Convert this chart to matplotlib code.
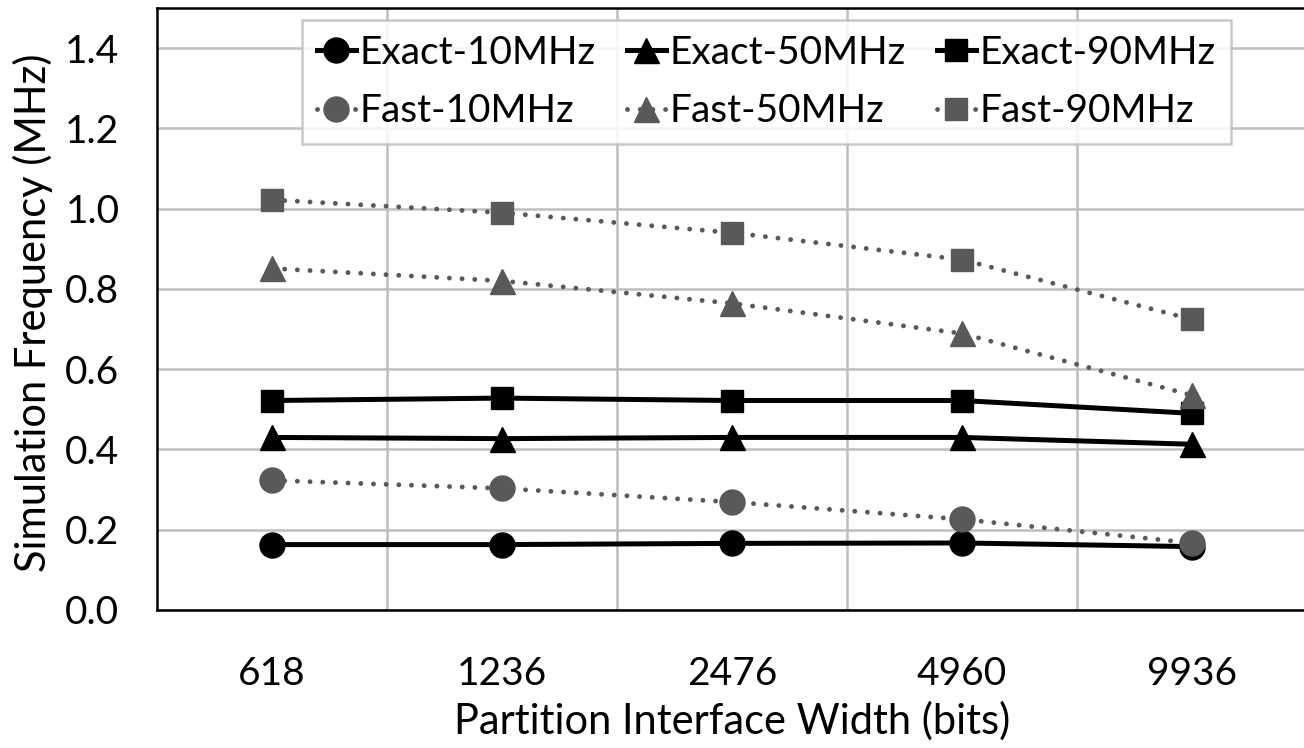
import matplotlib
matplotlib.use("Agg")
import matplotlib.pyplot as plt

categories = ["618", "1236", "2476", "4960", "9936"]
exact_10 = [0.163, 0.163, 0.166, 0.167, 0.158]
exact_50 = [0.430, 0.427, 0.430, 0.430, 0.413]
exact_90 = [0.522, 0.528, 0.522, 0.522, 0.490]
fast_10 = [0.323, 0.303, 0.269, 0.226, 0.167]
fast_50 = [0.851, 0.820, 0.764, 0.689, 0.535]
fast_90 = [1.022, 0.990, 0.940, 0.873, 0.724]
yticks = [0.0, 0.2, 0.4, 0.6, 0.8, 1.0, 1.2, 1.4]

plt.rcParams['font.family'] = ['Lato', 'DejaVu Sans']

fig = plt.figure(figsize=(13.04, 7.48), dpi=100)
ax = fig.add_axes([157/1304, 138/748, (1307-157)/1304, (610-8)/748])

x = list(range(len(categories)))
black = "#000000"
gray = "#595959"

series = [
    ("Exact-10MHz", exact_10, "o", black, "solid"),
    ("Fast-10MHz", fast_10, "o", gray, "dot"),
    ("Exact-50MHz", exact_50, "^", black, "solid"),
    ("Fast-50MHz", fast_50, "^", gray, "dot"),
    ("Exact-90MHz", exact_90, "s", black, "solid"),
    ("Fast-90MHz", fast_90, "s", gray, "dot"),
]
order = [0, 2, 4, 1, 3, 5]
handles = {}
for i in order:
    name, vals, mk, col, ls = series[i]
    ms = 18 if mk != "s" else 16.5
    if ls == "solid":
        ln, = ax.plot(x, vals, color=col, lw=3.6, marker=mk, markersize=ms,
                      markerfacecolor=col, markeredgecolor=col, label=name, zorder=3)
    else:
        ln, = ax.plot(x, vals, color=col, lw=3.5, marker=mk, markersize=ms,
                      markerfacecolor=col, markeredgecolor=col, label=name, zorder=4,
                      dash_capstyle='round', dashes=(0.01, 2.6))
    handles[i] = ln

ax.set_xlim(-0.5, 4.5)
ax.set_ylim(0, 1.5)
ax.set_yticks(yticks)
ax.set_yticklabels([f"{v:.1f}" for v in yticks])
ax.set_xticks(x)
ax.set_xticklabels(categories)
ax.set_xticks([0.5, 1.5, 2.5, 3.5], minor=True)
ax.tick_params(axis='both', which='both', length=0, labelsize=28)
ax.tick_params(axis='x', pad=33)
ax.tick_params(axis='y', pad=27)
ax.grid(True, axis='y', which='major', color="#BFBFBF", lw=1.8, zorder=0)
ax.grid(True, axis='x', which='minor', color="#BFBFBF", lw=1.8, zorder=0)
ax.set_axisbelow(True)
for s in ax.spines.values():
    s.set_color("black")
    s.set_linewidth(1.8)

ax.set_xlabel("Partition Interface Width (bits)", fontsize=30)
ax.xaxis.label.set_verticalalignment('center')
ax.xaxis.set_label_coords(0.5, (610 - 721) / 602)
ax.set_ylabel("Simulation Frequency (MHz)", fontsize=30)
ax.yaxis.label.set_verticalalignment('center')
ax.yaxis.set_label_coords((33 - 157) / 1150, (610 - 313) / 602)

leg = ax.legend([handles[i] for i in range(6)], [series[i][0] for i in range(6)],
                ncol=3, loc="upper left", bbox_to_anchor=(0.126, 0.980),
                fontsize=28, frameon=True, fancybox=False, framealpha=0.85,
                edgecolor="#BFBFBF", handlelength=1.0, handletextpad=0.1,
                columnspacing=0.8, labelspacing=0.58, borderpad=0.38,
                borderaxespad=0, markerscale=1.0)
leg.get_frame().set_linewidth(1.8)

fig.savefig("out.png", dpi=100)
